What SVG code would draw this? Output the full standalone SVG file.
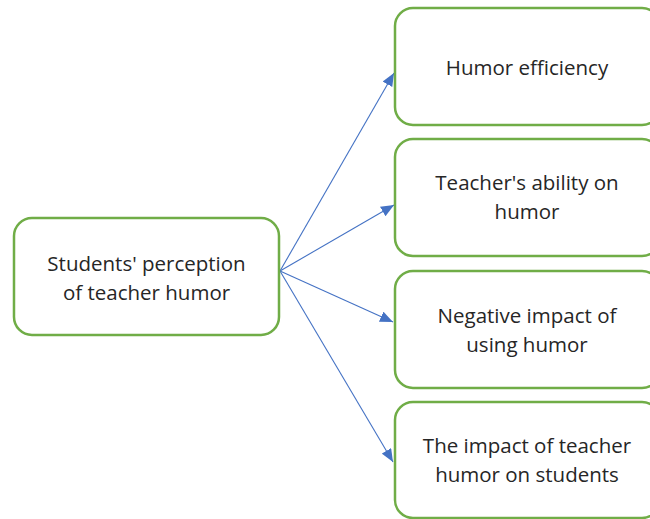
<svg xmlns="http://www.w3.org/2000/svg" width="650" height="519" viewBox="0 0 650 519">
<style>
.box{fill:#fff;stroke:#70AD47;stroke-width:2.5}
.t{font-family:"Open Sans","Noto Sans",sans-serif;font-size:20.5px;fill:#262626;text-anchor:middle}
.c{stroke:#4472C4;stroke-width:1.1;fill:none;marker-end:url(#ah)}
</style>
<defs>
<marker id="ah" viewBox="0 0 13 11" refX="13" refY="5.5" markerWidth="13" markerHeight="11" markerUnits="userSpaceOnUse" orient="auto">
<path d="M0,0 L13,5.5 L0,11 Z" fill="#4472C4"/>
</marker>
</defs>
<rect width="650" height="519" fill="#fff"/>
<g id="connectors">
<line class="c" x1="280" y1="271" x2="394" y2="73"/>
<line class="c" x1="280" y1="271" x2="394" y2="205"/>
<line class="c" x1="280" y1="271" x2="393" y2="322"/>
<line class="c" x1="280" y1="271" x2="393" y2="462"/>
</g>
<g id="root">
<rect class="box" x="14" y="218" width="265" height="117" rx="18"/>
<text class="t" x="146.5" y="271">Students' perception</text>
<text class="t" x="146.5" y="300">of teacher humor</text>
</g>
<g id="n1">
<rect class="box" x="395" y="8" width="265" height="117" rx="18"/>
<text class="t" x="527" y="75">Humor efficiency</text>
</g>
<g id="n2">
<rect class="box" x="395" y="139" width="265" height="117" rx="18"/>
<text class="t" x="527" y="190">Teacher's ability on</text>
<text class="t" x="527" y="219">humor</text>
</g>
<g id="n3">
<rect class="box" x="395" y="271" width="265" height="117" rx="18"/>
<text class="t" x="527" y="323">Negative impact of</text>
<text class="t" x="527" y="352">using humor</text>
</g>
<g id="n4">
<rect class="box" x="395" y="402" width="265" height="116" rx="18"/>
<text class="t" x="527" y="453">The impact of teacher</text>
<text class="t" x="527" y="482">humor on students</text>
</g>
</svg>
